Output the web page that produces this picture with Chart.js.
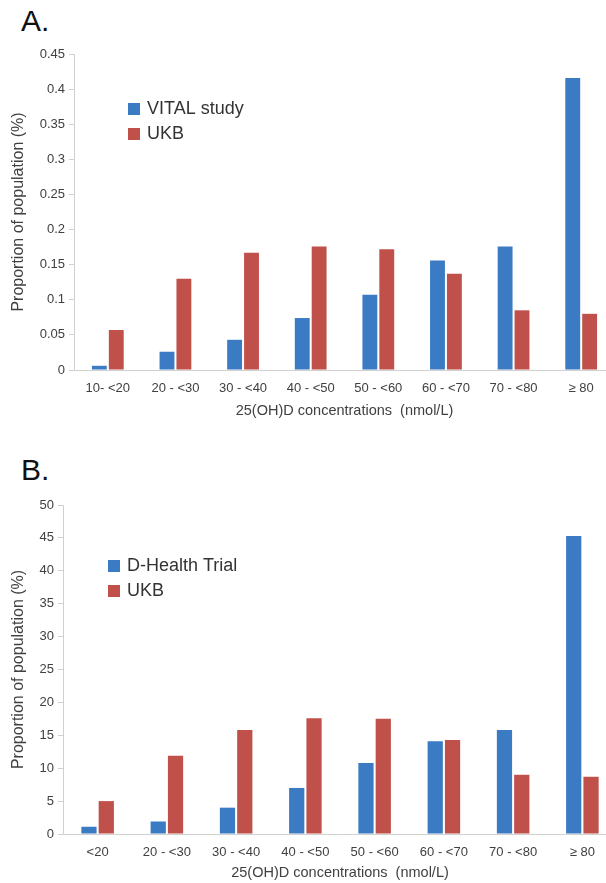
<!DOCTYPE html>
<html>
<head>
<meta charset="utf-8">
<script src="https://cdn.jsdelivr.net/npm/chart.js@4.4.1/dist/chart.umd.min.js"></script>
<style>
  html, body { margin: 0; padding: 0; background: #fff; overflow: hidden; }
  body { width: 606px; height: 883px; position: relative; }
  .panel { position: absolute; left: 0; width: 630px; }
  .tag { position: absolute; left: 21px; font: 300 30px "Liberation Sans", Arial, sans-serif; color: #111; }
</style>
</head>
<body>
<div class="tag" style="top:4px">A.</div>
<div class="panel" style="top:0; height:430px"><canvas id="chartA"></canvas></div>
<div class="tag" style="top:453px">B.</div>
<div class="panel" style="top:440px; height:443px"><canvas id="chartB"></canvas></div>

<script>
// data
const labelsA = ["10- <20", "20 - <30", "30 - <40", "40 - <50", "50 - <60", "60 - <70", "70 - <80", "\u2265 80"];
const vital = [0.006, 0.026, 0.043, 0.074, 0.107, 0.156, 0.176, 0.416];
const ukbA = [0.057, 0.130, 0.167, 0.176, 0.172, 0.137, 0.085, 0.080];

const labelsB = ["<20", "20 - <30", "30 - <40", "40 - <50", "50 - <60", "60 - <70", "70 - <80", "\u2265 80"];
const dHealth = [1.1, 1.9, 4.0, 7.0, 10.8, 14.1, 15.8, 45.3];
const ukbB = [5.0, 11.9, 15.8, 17.6, 17.5, 14.3, 9.0, 8.7];

const BLUE = "#3b7bc4";
const RED = "#c0504a";
const FONT = "'Liberation Sans', Arial, sans-serif";
const TEXT = "#404040";

// legend drawn inside the plot area
const innerLegend = {
  id: "innerLegend",
  afterDatasetsDraw(chart, args, opts) {
    const { ctx, chartArea } = chart;
    let x = chartArea.left + opts.dx;
    let y = chartArea.top + opts.dy;
    ctx.save();
    ctx.font = "18px " + FONT;
    ctx.textBaseline = "middle";
    chart.data.datasets.forEach((ds) => {
      ctx.fillStyle = ds.backgroundColor;
      ctx.fillRect(x, y, 12, 12);
      ctx.fillStyle = "#333";
      ctx.fillText(ds.label, x + 19, y + 6.5);
      y += 25;
    });
    ctx.restore();
  }
};

function makeChart(id, labels, first, second, firstLabel, yMax, yStep, legendPos, pad, yWidth, xHeight, titlePad) {
  return new Chart(document.getElementById(id), {
    type: "bar",
    data: {
      labels: labels,
      datasets: [
        { label: firstLabel, data: first, backgroundColor: BLUE },
        { label: "UKB", data: second, backgroundColor: RED }
      ]
    },
    plugins: [innerLegend],
    options: {
      responsive: true,
      maintainAspectRatio: false,
      animation: false,
      categoryPercentage: 0.5,
      barPercentage: 0.88,
      layout: { padding: pad },
      plugins: {
        legend: { display: false },
        tooltip: { enabled: false },
        innerLegend: legendPos
      },
      scales: {
        x: {
          grid: { display: false },
          border: { color: "#d0d0d0", width: 1 },
          ticks: { color: TEXT, font: { family: FONT, size: 13 }, padding: 3, maxRotation: 0, autoSkip: false },
          title: { display: true, text: "25(OH)D concentrations  (nmol/L)", color: TEXT, font: { family: FONT, size: 14.5 }, padding: { top: 2, bottom: titlePad } },
          afterFit(scale) { scale.height = xHeight; }
        },
        y: {
          min: 0,
          max: yMax,
          grid: { drawOnChartArea: false, drawTicks: true, tickLength: 5, color: "#d0d0d0" },
          border: { color: "#d0d0d0", width: 1 },
          ticks: {
            color: TEXT, font: { family: FONT, size: 13 }, padding: 4, stepSize: yStep,
            callback: (v) => String(Math.round(v * 100) / 100)
          },
          title: { display: true, text: "Proportion of population (%)", color: TEXT, font: { family: FONT, size: 16 }, padding: 1 },
          afterFit(scale) { scale.width = yWidth; }
        }
      }
    }
  });
}

makeChart("chartA", labelsA, vital, ukbA, "VITAL study", 0.45, 0.05,
  { dx: 54, dy: 49 },
  { top: 54, left: 8, right: 15, bottom: 0 }, 66, 60, 10);

makeChart("chartB", labelsB, dHealth, ukbB, "D-Health Trial", 50, 5,
  { dx: 45, dy: 55 },
  { top: 65, left: 8, right: 13, bottom: 0 }, 55, 49, 1);
</script>
</body>
</html>
